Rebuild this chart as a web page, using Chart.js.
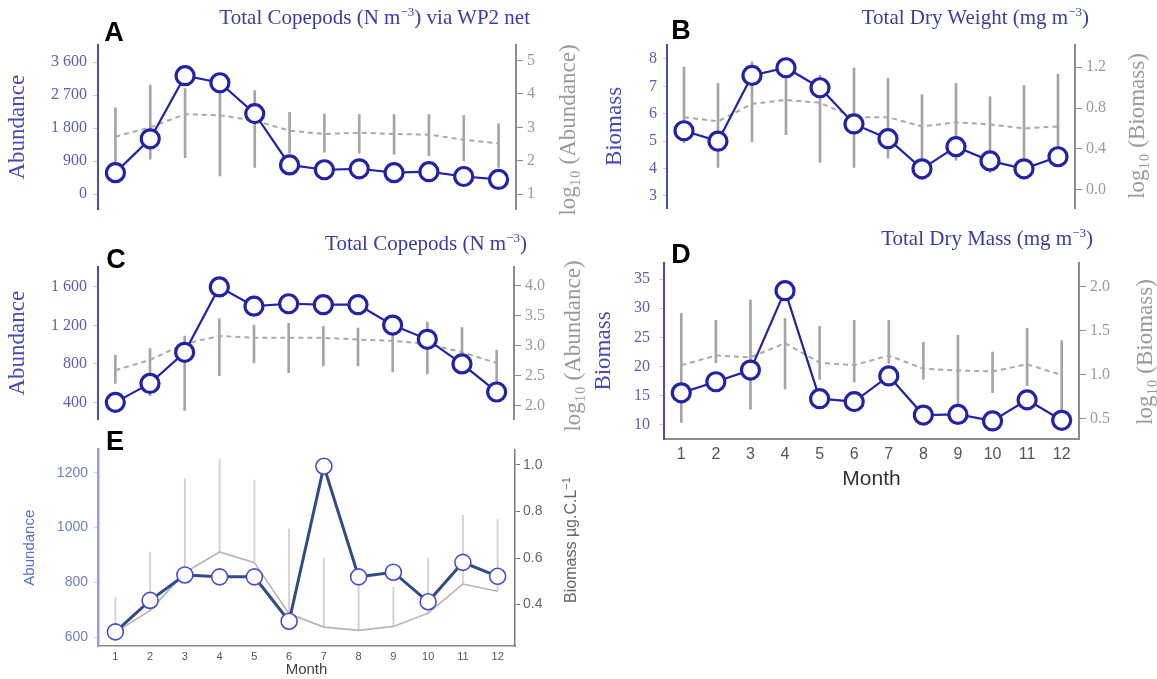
<!DOCTYPE html>
<html>
<head>
<meta charset="utf-8">
<script src="https://cdn.jsdelivr.net/npm/chart.js@4.4.1/dist/chart.umd.min.js"></script>
<style>
  body { margin: 0; background: #fff; width: 1157px; height: 679px; position: relative; overflow: hidden; }
  .box { position: absolute; }
  .ttl { position: absolute; font-family: 'Liberation Serif', serif; font-size: 21px; color: #3c3ca0; white-space: nowrap; transform: translateY(-50%); }
  .ttl sup { font-size: 13px; }
  .let { position: absolute; font-family: 'Liberation Sans', Arial, sans-serif; font-weight: bold; font-size: 27px; color: #000; transform: translate(-50%, -50%); }
  .rt { position: absolute; white-space: nowrap; transform: translate(-50%, -50%) rotate(-90deg); }
  .serif { font-family: 'Liberation Serif', serif; font-size: 23px; color: #9a9a9a; }
  .sans { font-family: 'Liberation Sans', Arial, sans-serif; font-size: 16px; color: #666; }
</style>
</head>
<body>
<div class="box" style="left:0;top:0;width:590px;height:225px"><canvas id="chartA"></canvas></div>
<div class="box" style="left:590px;top:0;width:567px;height:225px"><canvas id="chartB"></canvas></div>
<div class="box" style="left:0;top:225px;width:590px;height:210px"><canvas id="chartC"></canvas></div>
<div class="box" style="left:585px;top:225px;width:572px;height:270px"><canvas id="chartD"></canvas></div>
<div class="box" style="left:0;top:435px;width:590px;height:244px"><canvas id="chartE"></canvas></div>

<div class="ttl" style="right:627px;top:17px">Total Copepods (N m<sup>−3</sup>) via WP2 net</div>
<div class="ttl" style="right:68px;top:17px">Total Dry Weight (mg m<sup>−3</sup>)</div>
<div class="ttl" style="right:630px;top:243px">Total Copepods (N m<sup>−3</sup>)</div>
<div class="ttl" style="right:64px;top:238px">Total Dry Mass (mg m<sup>−3</sup>)</div>

<div class="let" style="left:114px;top:32px">A</div>
<div class="let" style="left:681px;top:30px">B</div>
<div class="let" style="left:116px;top:259px">C</div>
<div class="let" style="left:681px;top:254px">D</div>
<div class="let" style="left:115px;top:441px">E</div>

<div class="rt serif" style="left:568px;top:130px">log₁₀ (Abundance)</div>
<div class="rt serif" style="left:1137px;top:126px">log₁₀ (Biomass)</div>
<div class="rt serif" style="left:573px;top:346px">log₁₀ (Abundance)</div>
<div class="rt serif" style="left:1145px;top:352px">log₁₀ (Biomass)</div>
<div class="rt sans" style="left:570px;top:540px">Biomass µg.C.L<sup style="font-size:11px">−1</sup></div>

<script>
const months = ['1', '2', '3', '4', '5', '6', '7', '8', '9', '10', '11', '12'];

// A: Total Copepods via WP2 net
const aAbundance = [588, 1510, 3230, 3037, 2196, 799, 667, 693, 588, 614, 482, 403];
const aLogMean = [2.72, 3.0, 3.39, 3.36, 3.2, 2.9, 2.8, 2.84, 2.8, 2.78, 2.63, 2.52];
const aLogMin = [1.6, 2.05, 2.09, 1.55, 1.8, 2.23, 2.26, 2.23, 2.2, 2.15, 2.0, 1.8];
const aLogMax = [3.58, 4.26, 4.16, 4.2, 4.1, 3.45, 3.4, 3.38, 3.38, 3.38, 3.35, 3.1];
const aLeftTicks = [0, 900, 1800, 2700, 3600];
const aRightTicks = [1, 2, 3, 4, 5];

// B: Total Dry Weight
const bBiomass = [5.38, 5.0, 7.4, 7.68, 6.95, 5.63, 5.09, 3.99, 4.8, 4.28, 3.99, 4.43];
const bLogMean = [0.71, 0.67, 0.84, 0.88, 0.85, 0.71, 0.71, 0.62, 0.66, 0.64, 0.6, 0.62];
const bLogMin = [0.46, 0.22, 0.47, 0.54, 0.27, 0.22, 0.31, 0.1, 0.29, 0.17, 0.15, 0.32];
const bLogMax = [1.2, 1.04, 1.25, 1.15, 1.12, 1.19, 1.09, 0.93, 1.04, 0.91, 1.02, 1.13];
const bLeftTicks = [3, 4, 5, 6, 7, 8];
const bRightTicks = [0, 0.4, 0.8, 1.2];

// C: Total Copepods
const cAbundance = [400, 597, 920, 1600, 1400, 1425, 1415, 1415, 1203, 1055, 800, 508];
const cLogMean = [2.59, 2.76, 3.03, 3.16, 3.13, 3.13, 3.13, 3.1, 3.08, 3.03, 2.89, 2.71];
const cLogMin = [2.37, 2.16, 1.92, 2.5, 2.71, 2.55, 2.66, 2.66, 2.56, 2.53, 2.66, 2.4];
const cLogMax = [2.84, 2.95, 3.16, 3.45, 3.34, 3.37, 3.32, 3.29, 3.45, 3.39, 3.3, 2.92];
const cLeftTicks = [400, 800, 1200, 1600];
const cRightTicks = [2, 2.5, 3, 3.5, 4];

// D: Total Dry Mass
const dBiomass = [15.5, 17.4, 19.4, 33, 14.5, 14, 18.4, 11.7, 11.8, 10.7, 14.3, 10.8];
const dLogMean = [1.11, 1.22, 1.2, 1.36, 1.14, 1.11, 1.22, 1.07, 1.05, 1.04, 1.12, 1.0];
const dLogMin = [0.46, 1.14, 0.61, 0.84, 0.95, 0.92, 1.13, 0.95, 0.57, 0.8, 0.88, 0.5];
const dLogMax = [1.7, 1.62, 1.85, 1.64, 1.55, 1.62, 1.62, 1.37, 1.45, 1.26, 1.53, 1.39];
const dLeftTicks = [10, 15, 20, 25, 30, 35];
const dRightTicks = [0.5, 1, 1.5, 2];

// E: abundance and biomass (µg C/L)
const eAbundance = [619, 734, 827, 820, 820, 658, 1224, 820, 837, 729, 873, 822];
const eBiomass = [0.28, 0.375, 0.537, 0.626, 0.58, 0.36, 0.303, 0.289, 0.306, 0.363, 0.488, 0.457];
const eBiomassHi = [0.431, 0.626, 0.94, 1.025, 0.935, 0.725, 0.6, 0.49, 0.474, 0.6, 0.783, 0.765];
const eLeftTicks = [600, 800, 1000, 1200];
const eRightTicks = [0.4, 0.6, 0.8, 1.0];

const SERIF = 'Liberation Serif';
const SANS = 'Liberation Sans';
const BLUE = '#2323a3';
const AXIS_BLUE = '#4a4ab6';
const TICK_BLUE = '#5c5cb8';
const GREY = '#8c8c8c';

const spaced = v => v >= 1000 ? String(v).replace(/(\d)(\d{3})$/, '$1 $2') : String(v);
const oneDec = v => v.toFixed(1);

function yAxis(pos, o) {
    return {
        position: pos,
        min: o.min,
        max: o.max,
        afterFit: s => { s.width = o.w; },
        afterBuildTicks: s => { s.ticks = o.ticks.map(v => ({ value: v })); },
        border: { display: true, color: o.axis, width: o.bw || 2 },
        grid: { drawOnChartArea: false, drawTicks: true, tickLength: o.tl || 0, color: o.tickColor || o.axis },
        ticks: { color: o.color, font: { family: o.family || SERIF, size: o.size || 16 }, padding: o.pad, callback: o.fmt || (v => String(v)) },
        title: o.title
            ? { display: true, text: o.title, color: o.titleColor, font: { family: o.family || SERIF, size: o.titleSize || 23 }, padding: { top: o.titlePad, bottom: 0 } }
            : { display: false }
    };
}

// four similar panels: blue mean line, grey dashed log mean, grey ranges
function seriesSets(values, logMean, logMin, logMax) {
    return [
        {
            type: 'line', data: values, yAxisID: 'y', order: 1, clip: false,
            borderColor: BLUE, borderWidth: 2.2,
            pointRadius: 9, pointHoverRadius: 9, pointBorderWidth: 3.2,
            pointBackgroundColor: '#fff', pointBorderColor: BLUE
        },
        {
            type: 'line', data: logMean, yAxisID: 'yR', order: 2,
            borderColor: '#a9a9a9', borderWidth: 2, borderDash: [5, 4], pointRadius: 0
        },
        {
            type: 'bar', data: logMin.map((v, i) => [v, logMax[i]]), yAxisID: 'yR', order: 3,
            backgroundColor: 'rgba(135,135,135,0.75)', barThickness: 2
        }
    ];
}

function panel(id, datasets, o) {
    return new Chart(document.getElementById(id), {
        type: 'line',
        data: { labels: months, datasets: datasets },
        options: {
            responsive: true,
            maintainAspectRatio: false,
            animation: false,
            layout: { padding: { top: o.padTop, bottom: o.padBottom, left: 0, right: 0 } },
            plugins: { legend: { display: false }, tooltip: { enabled: false } },
            scales: { x: o.x, y: o.y, yR: o.yR }
        }
    });
}

const hiddenX = { type: 'category', offset: true, display: false };

panel('chartA', seriesSets(aAbundance, aLogMean, aLogMin, aLogMax), {
    padTop: 45, padBottom: 10, x: hiddenX,
    y: yAxis('left', { min: -414, max: 4066, ticks: aLeftTicks, w: 98, axis: AXIS_BLUE, tickColor: '#c8c8e0', tl: 5, pad: 6,
        color: TICK_BLUE, fmt: spaced, title: 'Abundance', titleColor: '#4a4ab4', titlePad: 4 }),
    yR: yAxis('right', { min: 0.546, max: 5.46, ticks: aRightTicks, w: 74, axis: GREY, tl: 7, pad: 4, color: '#9a9a9a' })
});

panel('chartB', seriesSets(bBiomass, bLogMean, bLogMin, bLogMax), {
    padTop: 45, padBottom: 17, x: hiddenX,
    y: yAxis('left', { min: 2.56, max: 8.51, ticks: bLeftTicks, w: 77, axis: AXIS_BLUE, tickColor: '#c8c8e0', tl: 4, pad: 6,
        color: TICK_BLUE, title: 'Biomass', titleColor: '#4a4ab4', titlePad: 11 }),
    yR: yAxis('right', { min: -0.176, max: 1.415, ticks: bRightTicks, w: 82, axis: GREY, tl: 7, pad: 4, color: '#9a9a9a', fmt: oneDec })
});

panel('chartC', seriesSets(cAbundance, cLogMean, cLogMin, cLogMax), {
    padTop: 42, padBottom: 7, x: hiddenX,
    y: yAxis('left', { min: 223, max: 1807, ticks: cLeftTicks, w: 98, axis: AXIS_BLUE, tickColor: '#c8c8e0', tl: 5, pad: 6,
        color: TICK_BLUE, fmt: spaced, title: 'Abundance', titleColor: '#4a4ab4', titlePad: 4 }),
    yR: yAxis('right', { min: 1.77, max: 4.31, ticks: cRightTicks, w: 76, axis: GREY, tl: 7, pad: 4, color: '#9a9a9a', fmt: oneDec })
});

panel('chartD', seriesSets(dBiomass, dLogMean, dLogMin, dLogMax), {
    padTop: 38, padBottom: 0,
    x: {
        type: 'category', offset: true,
        afterFit: s => { s.height = 56; },
        border: { display: true, color: '#8a8a8a', width: 2 },
        grid: { drawOnChartArea: false, drawTicks: false },
        ticks: { color: '#555', font: { family: "'Liberation Sans Narrow', " + SANS, size: 16 }, padding: 6, maxRotation: 0 },
        title: { display: true, text: 'Month', color: '#333', font: { family: "'Liberation Sans Narrow', " + SANS, size: 21 }, padding: { top: 0, bottom: 3 } }
    },
    y: yAxis('left', { min: 7.6, max: 37.74, ticks: dLeftTicks, w: 79, axis: AXIS_BLUE, tickColor: '#c8c8e0', tl: 5, pad: 9,
        color: TICK_BLUE, title: 'Biomass', titleColor: '#4a4ab4', titlePad: 5 }),
    yR: yAxis('right', { min: 0.273, max: 2.27, ticks: dRightTicks, w: 78, axis: GREY, tl: 7, pad: 4, color: '#9a9a9a', fmt: oneDec })
});

panel('chartE', [
    {
        type: 'line', data: eAbundance, yAxisID: 'y', order: 1, clip: false,
        borderColor: '#2f4d82', borderWidth: 3,
        pointRadius: 8, pointHoverRadius: 8, pointBorderWidth: 1.6,
        pointBackgroundColor: '#fff', pointBorderColor: '#4b4bd2'
    },
    {
        type: 'line', data: eBiomass, yAxisID: 'yR', order: 2,
        borderColor: '#b5b5b5', borderWidth: 1.6, pointRadius: 0
    },
    {
        type: 'bar', data: eBiomass.map((v, i) => [v, eBiomassHi[i]]), yAxisID: 'yR', order: 3,
        backgroundColor: '#d2d2d2', barThickness: 1.2
    }
], {
    padTop: 12, padBottom: 0,
    x: {
        type: 'category', offset: true,
        afterFit: s => { s.height = 33; },
        border: { display: true, color: '#8a8a8a', width: 1.5 },
        grid: { drawOnChartArea: false, drawTicks: false },
        ticks: { color: '#555', font: { family: SANS, size: 11 }, padding: 4, maxRotation: 0 },
        title: { display: true, text: 'Month', color: '#444', font: { family: SANS, size: 15 }, padding: { top: 0, bottom: 0 } }
    },
    y: yAxis('left', { min: 567.5, max: 1285.5, ticks: eLeftTicks, w: 98, axis: '#9a9ae4', bw: 2.5, tickColor: '#d0d0ee', tl: 4, pad: 6,
        color: '#6f80c0', family: SANS, size: 14, title: 'Abundance', titleColor: '#5b6fd0', titleSize: 15, titlePad: 21 }),
    yR: yAxis('right', { min: 0.2217, max: 1.067, ticks: eRightTicks, w: 75, axis: '#7a7a7a', bw: 1.5, tl: 5, pad: 3,
        color: '#666', family: SANS, size: 14, fmt: oneDec })
});
</script>
</body>
</html>
